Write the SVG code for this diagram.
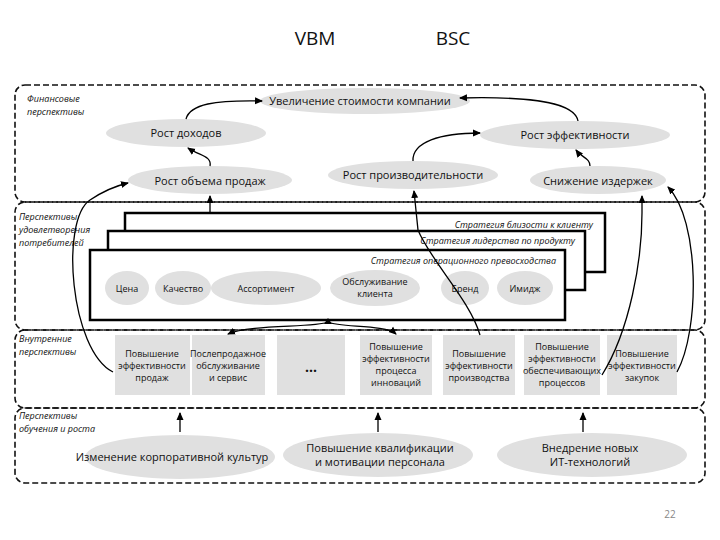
<svg xmlns="http://www.w3.org/2000/svg" width="720" height="540" viewBox="0 0 720 540">
<style>
text{font-family:"Open Sans","DejaVu Sans",sans-serif;fill:#111}
.t{font-size:11px;text-anchor:middle}
.s{font-size:9px;text-anchor:middle}
.i{font-size:9px;font-style:italic}
.e{fill:#e0e0e0}
.b{fill:#e0e0e0}
.p{fill:none;stroke:#111;stroke-width:1.6;stroke-dasharray:6 3}
.c{fill:none;stroke:#000;stroke-width:1.3}
.box{fill:#fff;stroke:#000;stroke-width:2.5}
</style>
<defs><marker id="a" markerWidth="8" markerHeight="8" refX="7" refY="4" orient="auto" markerUnits="userSpaceOnUse"><path d="M0,0.5L8,4L0,7.5z" fill="#000"/></marker></defs>
<rect width="720" height="540" fill="#fff"/>
<text x="315" y="45" style="font-size:19px;text-anchor:middle">VBM</text>
<text x="453" y="45" style="font-size:19px;text-anchor:middle">BSC</text>
<g id="panels">
<rect class="p" x="15" y="85" width="690" height="117" rx="10"/>
<rect class="p" x="15" y="202" width="690" height="128" rx="10"/>
<rect class="p" x="15" y="330" width="690" height="78" rx="10"/>
<rect class="p" x="15" y="408" width="690" height="75" rx="10"/>
<text class="i" x="27" y="102">Финансовые</text><text class="i" x="27" y="115">перспективы</text>
<text class="i" x="19" y="220">Перспективы</text><text class="i" x="19" y="233">удовлетворения</text><text class="i" x="19" y="246">потребителей</text>
<text class="i" x="19" y="342">Внутренние</text><text class="i" x="19" y="355">перспективы</text>
<text class="i" x="19" y="419">Перспективы</text><text class="i" x="19" y="432">обучения и роста</text>
</g>
<g id="fin">
<ellipse class="e" cx="365" cy="101" rx="105" ry="13"/><text class="t" x="360" y="105">Увеличение стоимости компании</text>
<ellipse class="e" cx="186" cy="133" rx="80" ry="14"/><text class="t" x="186" y="137">Рост доходов</text>
<ellipse class="e" cx="575" cy="135" rx="95" ry="14"/><text class="t" x="575" y="139">Рост эффективности</text>
<ellipse class="e" cx="210" cy="180" rx="82" ry="14"/><text class="t" x="210" y="185">Рост объема продаж</text>
<ellipse class="e" cx="413" cy="175" rx="85" ry="14"/><text class="t" x="413" y="179">Рост производительности</text>
<ellipse class="e" cx="598" cy="180" rx="68" ry="14"/><text class="t" x="598" y="185">Снижение издержек</text>
</g>
<g id="strategy">
<rect class="box" x="125" y="213" width="480" height="59"/>
<text class="i" x="593" y="228" text-anchor="end">Стратегия близости к клиенту</text>
<rect class="box" x="108" y="231" width="477" height="59"/>
<text class="i" x="575" y="244" text-anchor="end">Стратегия лидерства по продукту</text>
<rect class="box" x="90" y="250" width="475" height="70"/>
<text class="i" x="556" y="264" text-anchor="end">Стратегия операционного превосходства</text>
<ellipse class="e" cx="127" cy="288" rx="22" ry="17"/><text class="s" x="127" y="292">Цена</text>
<ellipse class="e" cx="183" cy="288" rx="28" ry="17"/><text class="s" x="183" y="292">Качество</text>
<ellipse class="e" cx="266" cy="288" rx="55" ry="17"/><text class="s" x="266" y="292">Ассортимент</text>
<ellipse class="e" cx="375" cy="288" rx="45" ry="18"/><text class="s" x="375" y="285">Обслуживание</text><text class="s" x="375" y="297">клиента</text>
<ellipse class="e" cx="465" cy="288" rx="24" ry="17"/><text class="s" x="465" y="292">Бренд</text>
<ellipse class="e" cx="525" cy="288" rx="28" ry="17"/><text class="s" x="525" y="292">Имидж</text>
</g>
<g id="internal">
<rect class="b" x="115" y="335" width="75" height="60"/><text class="s" x="152" y="357">Повышение</text><text class="s" x="152" y="369">эффективности</text><text class="s" x="152" y="381">продаж</text>
<rect class="b" x="192" y="335" width="73" height="60"/><text class="s" x="228" y="357">Послепродажное</text><text class="s" x="228" y="369">обслуживание</text><text class="s" x="228" y="381">и сервис</text>
<rect class="b" x="277" y="335" width="68" height="60"/><text x="311" y="372" style="font-size:14px;text-anchor:middle;font-weight:bold">...</text>
<rect class="b" x="360" y="335" width="72" height="60"/><text class="s" x="396" y="350">Повышение</text><text class="s" x="396" y="362">эффективности</text><text class="s" x="396" y="374">процесса</text><text class="s" x="396" y="386">инноваций</text>
<rect class="b" x="443" y="335" width="72" height="60"/><text class="s" x="479" y="357">Повышение</text><text class="s" x="479" y="369">эффективности</text><text class="s" x="479" y="381">производства</text>
<rect class="b" x="524" y="335" width="76" height="60"/><text class="s" x="562" y="350">Повышение</text><text class="s" x="562" y="362">эффективности</text><text class="s" x="562" y="374">обеспечивающих</text><text class="s" x="562" y="386">процессов</text>
<rect class="b" x="607" y="335" width="70" height="60"/><text class="s" x="642" y="357">Повышение</text><text class="s" x="642" y="369">эффективности</text><text class="s" x="642" y="381">закупок</text>
</g>
<g id="learning">
<ellipse class="e" cx="180" cy="457" rx="95" ry="22"/><text class="t" x="172" y="461">Изменение корпоративной культур</text>
<ellipse class="e" cx="378" cy="455" rx="95" ry="22"/><text class="t" x="380" y="452">Повышение квалификации</text><text class="t" x="380" y="466">и мотивации персонала</text>
<ellipse class="e" cx="592" cy="455" rx="95" ry="22"/><text class="t" x="590" y="452">Внедрение новых</text><text class="t" x="590" y="466">ИТ-технологий</text>
</g>
<g id="connectors">
<path class="c" d="M186,119 C190,104 215,100 262,101" marker-end="url(#a)"/>
<path class="c" d="M578,121 C575,104 540,96 460,98" marker-end="url(#a)"/>
<path class="c" d="M210,166 C212,156 200,156 188,148" marker-end="url(#a)"/>
<path class="c" d="M413,161 C412,142 440,133 480,133" marker-end="url(#a)"/>
<path class="c" d="M590,166 C590,158 582,158 576,150" marker-end="url(#a)"/>
<path class="c" d="M210,213 L210,196" marker-end="url(#a)"/>
<path class="c" d="M113,372 C70,350 60,220 90,200 C105,190 115,186 128,183" marker-end="url(#a)"/>
<path class="c" d="M480,335 C470,300 430,260 418,230 L414,191" marker-end="url(#a)"/>
<path class="c" d="M602,375 C630,330 642,260 642,213 L642,196" marker-end="url(#a)"/>
<path class="c" d="M677,372 C700,330 700,220 668,187" marker-end="url(#a)"/>
<path class="c" d="M328,322 C315,328 250,324 228,334" marker-end="url(#a)"/>
<path class="c" d="M328,322 C340,328 385,324 396,334" marker-end="url(#a)"/>
<path d="M324,324 L328,318 L332,324z" fill="#000"/>
<path class="c" d="M180,432 L180,413" marker-end="url(#a)"/>
<path class="c" d="M378,432 L378,413" marker-end="url(#a)"/>
<path class="c" d="M583,432 L583,413" marker-end="url(#a)"/>
</g>
<text x="670" y="518" style="font-size:10px;fill:#888;text-anchor:middle">22</text>
</svg>
